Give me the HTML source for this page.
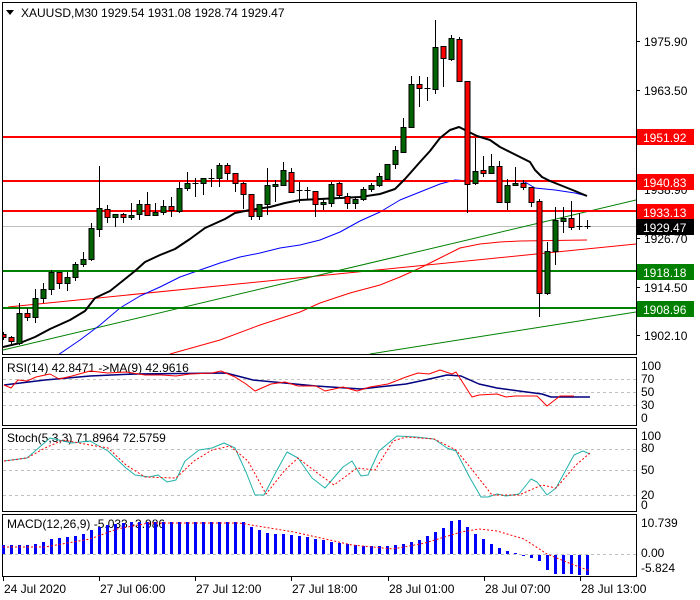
<!DOCTYPE html>
<html><head><meta charset="utf-8"><style>
html,body{margin:0;padding:0;background:#fff;width:700px;height:600px;overflow:hidden}
svg{display:block}
text{font-family:"Liberation Sans",sans-serif;font-size:12px;fill:#000}
</style></head><body>
<svg id="s" width="700" height="600" xmlns="http://www.w3.org/2000/svg">
<rect width="700" height="600" fill="#fff"/>
<g id="main"></g>
<rect x="2.5" y="2.5" width="634" height="352" fill="none" stroke="#000"/>
<rect x="2.5" y="357.5" width="634" height="68" fill="none" stroke="#000"/>
<rect x="2.5" y="428.5" width="634" height="83" fill="none" stroke="#000"/>
<rect x="2.5" y="514.5" width="634" height="62" fill="none" stroke="#000"/>
<text x="21" y="17">XAUUSD,M30  1929.54 1931.08 1928.74 1929.47</text>
<polygon points="6,10 14,10 10,15" fill="#000"/>
<text x="7" y="372">RSI(14) 42.8471  -&gt;MA(9) 42.9616</text>
<text x="7" y="442">Stoch(5,3,3) 71.8964 72.5759</text>
<text x="7" y="528">MACD(12,26,9) -5.033 -3.986</text>
<g id="axis"></g>
</svg>
<script>
const NS="http://www.w3.org/2000/svg";
const M=document.getElementById('main'),A=document.getElementById('axis');
function el(p,t,a,txt){const e=document.createElementNS(NS,t);for(const k in a)e.setAttribute(k,a[k]);if(txt!==undefined)e.textContent=txt;p.appendChild(e);return e;}
function pl(p,pts,c,w,d){el(p,'polyline',{points:pts.map(q=>q.join(',')).join(' '),fill:'none',stroke:c,'stroke-width':w||1,'stroke-dasharray':d||'none','stroke-linejoin':'round'});}
const X=i=>3+8*i;
const cp=el(M,'clipPath',{id:'cm'});
el(cp,'rect',{x:3,y:3,width:633,height:351});
const G=el(M,'g',{'clip-path':'url(#cm)'});
el(G,'line',{x1:3,y1:226.5,x2:636,y2:226.5,stroke:'#c0c0c0'});
el(G,'line',{x1:8,y1:307,x2:636,y2:244,stroke:'#ff0000'});
el(G,'line',{x1:3,y1:350,x2:636,y2:200,stroke:'#008000'});
el(G,'line',{x1:370,y1:354,x2:636,y2:312,stroke:'#008000'});
pl(G,[[170,354],[220,340],[260,325],[300,312],[320,303],[350,293],[380,285],[400,277],[420,268],[440,258],[460,248],[480,244],[500,242],[520,241],[587,240]],'#ff0000',1);
pl(G,[[58,355],[80,340],[100,325],[120,308],[140,296],[160,287],[180,277],[200,270],[220,263],[240,257],[260,253],[280,248],[300,245],[320,240],[340,232],[360,221],[380,212],[400,200],[420,192],[440,184],[455,180],[470,181],[490,181],[510,181],[525,182],[535,188],[555,190],[575,193],[587,196]],'#0000ff',1);
[[137,'#ff0000'],[181,'#ff0000'],[211,'#ff0000'],[271,'#008000'],[308,'#008000']].forEach(h=>el(G,'line',{x1:3,y1:h[0],x2:636,y2:h[0],stroke:h[1],'stroke-width':2}));
pl(G,[[3,347],[20,343],[35,337],[50,329],[70,320],[85,311],[95,298],[110,291],[125,279],[135,271],[145,262],[160,255],[175,249],[190,239],[205,228],[225,219],[235,213],[250,210],[270,207],[285,203],[300,200],[340,198],[360,197],[380,194],[395,189],[405,179],[420,162],[430,151],[440,138],[450,130],[459,127],[467,131],[477,136],[490,140],[500,147],[510,152],[520,157],[530,162],[535,170],[542,177],[550,181],[560,185],[575,191],[587,196]],'#000',2);
const C=[[334,337,332,340,'r'],[337,341,336,344,'r'],[313,343,303,345,'g'],[313,317,308,321,'r'],[298,317,289,323,'g'],[289,298,283,303,'g'],[272,289,270,295,'g'],[272,283,272,289,'r'],[277,283,272,291,'g'],[264,277,262,281,'g'],[259,264,252,267,'g'],[228,259,223,261,'g'],[208,229,166,237,'g'],[209,217,205,223,'r'],[214,217,214,227,'g'],[214,217,213,223,'r'],[215,217,203,220,'g'],[204,214,200,220,'g'],[204,215,192,216,'r'],[212,215,203,216,'g'],[206,212,200,215,'g'],[206,210,197,217,'r'],[188,211,182,213,'g'],[183,188,172,191,'g'],[183,184,178,197,'d'],[178,183,178,195,'g'],[178,179,169,187,'d'],[165,178,163,187,'g'],[165,173,163,180,'r'],[173,183,173,192,'r'],[183,194,182,209,'r'],[194,216,194,220,'r'],[204,216,204,220,'g'],[185,204,168,215,'g'],[184,186,180,202,'g'],[170,185,162,185,'g'],[172,192,168,193,'r'],[190,191,182,203,'d'],[190,191,187,200,'d'],[191,204,191,217,'r'],[202,204,199,210,'g'],[184,203,182,207,'g'],[183,195,182,197,'r'],[196,203,193,209,'r'],[199,203,197,209,'g'],[189,199,187,201,'g'],[185,189,183,192,'g'],[176,185,173,187,'g'],[164,179,164,180,'g'],[150,164,146,169,'g'],[127,152,118,152,'g'],[84,127,76,128,'g'],[84,88,76,107,'r'],[88,89,77,101,'d'],[47,89,20,94,'g'],[46,58,46,87,'r'],[38,59,35,61,'g'],[39,81,37,81,'r'],[81,184,81,213,'r'],[171,183,138,185,'g'],[170,173,156,177,'r'],[166,173,154,173,'g'],[166,202,161,203,'r'],[185,202,179,210,'g'],[183,185,167,186,'g'],[183,187,180,190,'r'],[187,202,187,207,'r'],[201,293,199,317,'r'],[251,293,242,295,'g'],[220,251,207,265,'g'],[218,221,207,233,'g'],[218,227,201,230,'r'],[226,227,213,230,'d'],[226,227,220,229,'d']];
C.forEach((c,i)=>{const x=X(i)+0.5;
el(G,'line',{x1:x,y1:c[2],x2:x,y2:c[3],stroke:'#000'});
if(c[4]=='d'){el(G,'line',{x1:x-3,y1:c[0]+0.5,x2:x+3,y2:c[0]+0.5,stroke:'#000'});}
else el(G,'rect',{x:x-2.5,y:c[0]+0.5,width:5,height:Math.max(1,c[1]-c[0]),fill:c[4]=='g'?'#006400':'#ff0000',stroke:'#000'});
});
[[41,'1975.90'],[90,'1963.50'],[189,'1938.90'],[238,'1926.70'],[287,'1914.50'],[335,'1902.10']].forEach(t=>{el(A,'line',{x1:636,y1:t[0]+0.5,x2:640,y2:t[0]+0.5,stroke:'#000'});el(A,'text',{x:644,y:t[0]+5},t[1]);});
[[137,'1951.92','#ff0000','#fff'],[182,'1940.83','#ff0000','#fff'],[212,'1933.13','#ff0000','#fff'],[227,'1929.47','#000','#fff'],[272,'1918.18','#008000','#fff'],[309,'1908.96','#008000','#fff']].forEach(t=>{el(A,'rect',{x:637,y:t[0]-8,width:57,height:16,fill:t[2]});el(A,'text',{x:643,y:t[0]+5,style:'fill:'+t[3]},t[1]);});
const R=el(A,'g',{});
[[379,'70'],[392,'50'],[405,'30']].forEach(t=>el(R,'line',{x1:3,y1:t[0]+0.5,x2:636,y2:t[0]+0.5,stroke:'#c0c0c0','stroke-dasharray':'3,3'}));
[[366,'100'],[379,'70'],[392,'50'],[405,'30'],[418,'0']].forEach(t=>el(R,'text',{x:641,y:t[0]+4},t[1]));
pl(R,[[4,385],[45,380],[90,376],[135,374],[226,373],[253,380],[316,386],[361,389],[406,384],[425,380],[447,375],[461,376],[479,384],[497,388],[519,391],[542,394],[551,397],[590,397]],'#000080',1.5);
pl(R,[[4,385],[11,388],[18,380],[27,381],[36,377],[50,374],[59,379],[72,376],[90,371],[108,373],[126,372],[145,375],[162,375],[176,376],[190,374],[212,373],[221,371],[235,377],[246,384],[255,391],[271,384],[285,382],[298,386],[316,386],[325,391],[343,387],[357,391],[370,387],[388,384],[406,377],[418,373],[429,374],[440,370],[452,374],[456,372],[472,397],[479,395],[497,394],[506,397],[515,396],[537,396],[547,406],[560,396],[574,396]],'#ff0000',1);
const S=el(A,'g',{});
[449,470,495].forEach(y=>el(S,'line',{x1:3,y1:y+0.5,x2:636,y2:y+0.5,stroke:'#c0c0c0','stroke-dasharray':'3,3'}));
[[436,'100'],[448,'80'],[470,'50'],[495,'20'],[505,'0']].forEach(t=>el(S,'text',{x:641,y:t[0]+4},t[1]));
pl(S,[[4,461],[27,458],[50,438],[72,443],[90,441],[108,451],[126,468],[135,475],[149,477],[158,475],[167,482],[176,480],[185,461],[199,450],[212,448],[224,443],[235,448],[246,472],[255,495],[264,495],[276,472],[287,452],[298,458],[312,478],[325,488],[343,467],[352,461],[361,476],[368,475],[379,451],[397,436],[416,437],[434,439],[447,448],[456,451],[470,478],[481,497],[488,497],[497,494],[506,496],[519,494],[531,479],[537,482],[547,495],[556,488],[574,455],[583,451],[590,454]],'#20b2aa',1);
pl(S,[[4,461],[27,458],[45,448],[63,440],[90,445],[108,448],[126,465],[145,477],[176,478],[194,461],[212,450],[230,446],[248,461],[266,494],[285,470],[298,458],[316,472],[334,485],[357,468],[375,470],[393,441],[406,437],[434,439],[456,450],[474,472],[492,495],[519,495],[542,485],[556,488],[576,465],[590,453]],'#ff0000',1,'2,2');
const D=el(A,'g',{});
el(D,'line',{x1:3,y1:554.5,x2:636,y2:554.5,stroke:'#c0c0c0','stroke-dasharray':'3,3'});
[[523,'10.739'],[553,'0.00'],[568,'-5.824']].forEach(t=>el(D,'text',{x:641,y:t[0]+4},t[1]));
const H=[9,9,9,9,10,12,15,16,17,18,20,24,27,29,30,31,32,32,32,32,32,32,32,32,32,32,32,32,32,32,32,27,24,21,20,20,19,18,17,15,14,12,11,10,9,8,8,8,8,9,10,12,14,18,22,26,33,34,27,20,15,10,6,3,1,-1,-3,-6,-15,-19,-19,-19,-20,-20];
H.forEach((h,i)=>{const x=X(i)-1;el(D,'rect',{x:x,y:h>0?554-h:555,width:3,height:Math.abs(h)||1,fill:'#0000ff'});});
pl(D,[[3,547],[45,547],[90,539],[117,529],[149,523],[239,523],[294,532],[352,545],[393,549],[425,543],[461,532],[479,529],[497,531],[524,539],[547,554],[569,563],[590,571]],'#ff0000',1,'2,2');
[[3,'24 Jul 2020'],[99,'27 Jul 06:00'],[195,'27 Jul 12:00'],[291,'27 Jul 18:00'],[388,'28 Jul 01:00'],[484,'28 Jul 07:00'],[580,'28 Jul 13:00']].forEach(t=>{el(A,'line',{x1:t[0]+0.5,y1:577,x2:t[0]+0.5,y2:581,stroke:'#000'});el(A,'text',{x:t[0]+1,y:593},t[1]);});
</script>
</body></html>
